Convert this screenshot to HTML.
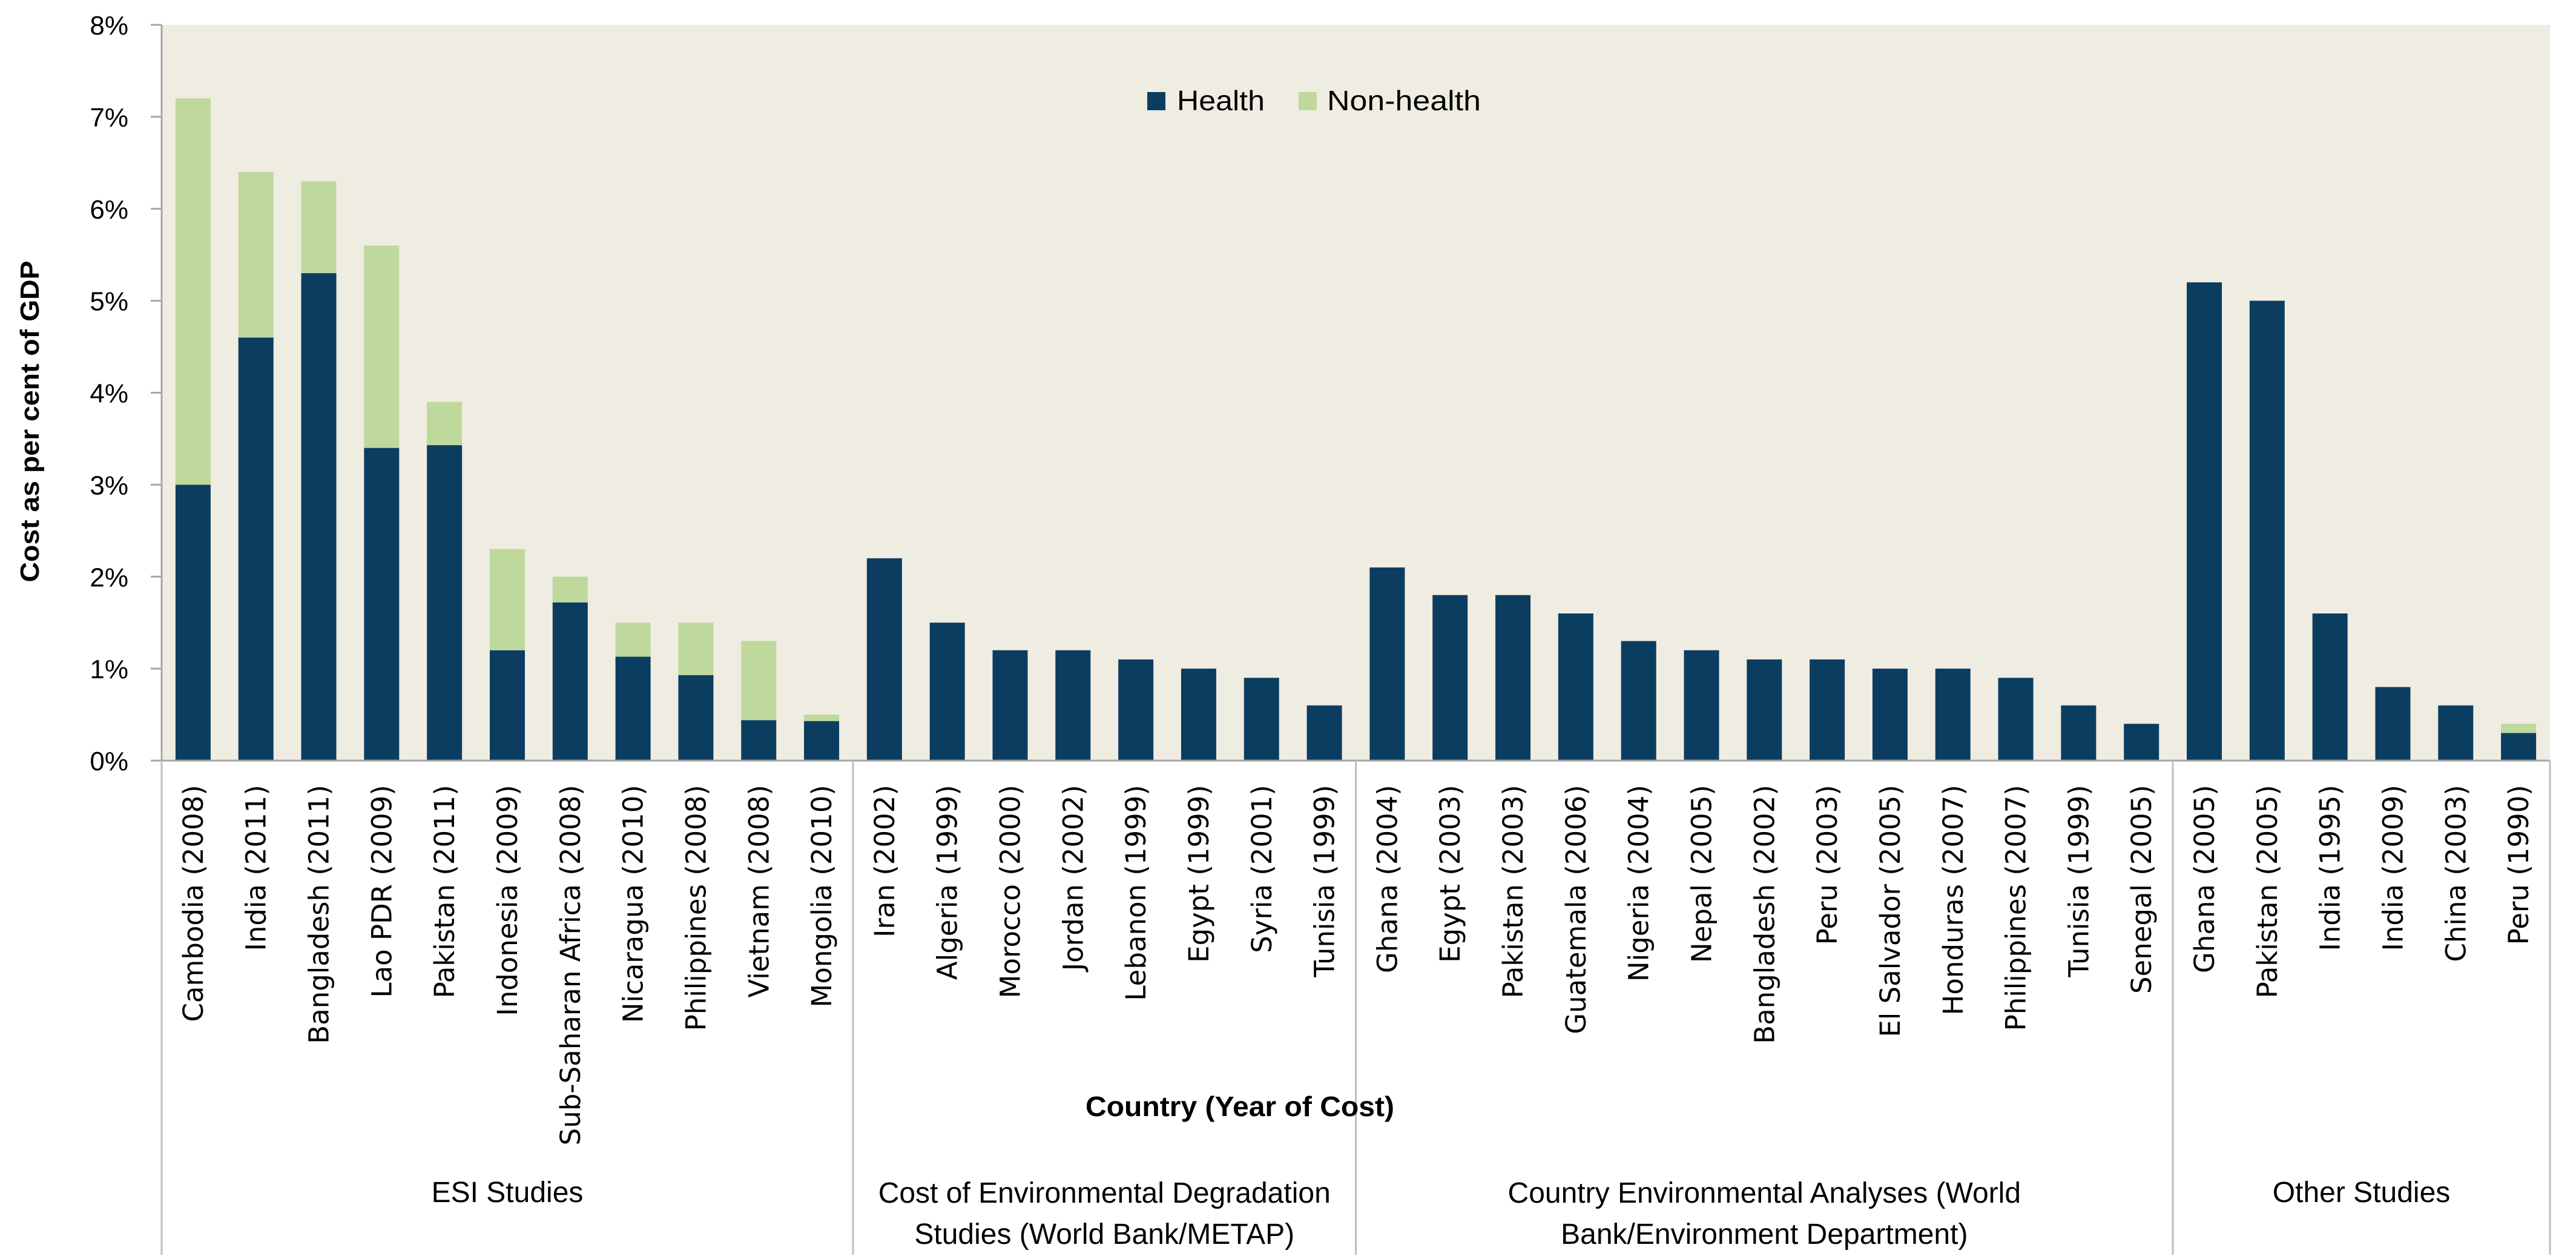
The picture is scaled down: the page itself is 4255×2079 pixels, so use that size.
<!DOCTYPE html>
<html><head><meta charset="utf-8"><style>
html,body{margin:0;padding:0;background:#fff;}
svg{display:block;}
text{fill:#000;}
</style></head><body>
<svg id="chart" xmlns="http://www.w3.org/2000/svg" width="4255" height="2079" viewBox="0 0 4255 2079">
<rect x="267" y="41" width="3945" height="1215" fill="#efece1"/>
<g id="bars"></g>
<g id="axes"></g>
<g id="labels"></g>
<text transform="translate(64,696) rotate(-90)" text-anchor="middle" font-family="'Liberation Sans',sans-serif" font-weight="bold" font-size="44" textLength="531" lengthAdjust="spacingAndGlyphs">Cost as per cent of GDP</text>
<text x="2048" y="1843" text-anchor="middle" font-family="'Liberation Sans',sans-serif" font-weight="bold" font-size="46" textLength="510" lengthAdjust="spacingAndGlyphs">Country (Year of Cost)</text>
<g>
<rect x="1895" y="152" width="30" height="30" fill="#0b3d60"/>
<text x="1944" y="182" font-family="'Liberation Sans',sans-serif" font-size="46" textLength="145" lengthAdjust="spacingAndGlyphs">Health</text>
<rect x="2145" y="152" width="30" height="30" fill="#bfd89c"/>
<text x="2192" y="182" font-family="'Liberation Sans',sans-serif" font-size="46" textLength="254" lengthAdjust="spacingAndGlyphs">Non-health</text>
</g>
</svg>
<script>
const categories=["Cambodia (2008)","India (2011)","Bangladesh (2011)","Lao PDR (2009)","Pakistan (2011)","Indonesia (2009)","Sub-Saharan Africa (2008)","Nicaragua (2010)","Philippines (2008)","Vietnam (2008)","Mongolia (2010)",
"Iran (2002)","Algeria (1999)","Morocco (2000)","Jordan (2002)","Lebanon (1999)","Egypt (1999)","Syria (2001)","Tunisia (1999)",
"Ghana (2004)","Egypt  (2003)","Pakistan (2003)","Guatemala (2006)","Nigeria (2004)","Nepal (2005)","Bangladesh  (2002)","Peru (2003)","El Salvador (2005)","Honduras (2007)","Philippines (2007)","Tunisia (1999)","Senegal (2005)",
"Ghana (2005)","Pakistan (2005)","India (1995)","India (2009)","China (2003)","Peru (1990)"];
const health=[3.0,4.6,5.3,3.4,3.43,1.2,1.72,1.13,0.93,0.44,0.43,
2.2,1.5,1.2,1.2,1.1,1.0,0.9,0.6,
2.1,1.8,1.8,1.6,1.3,1.2,1.1,1.1,1.0,1.0,0.9,0.6,0.4,
5.2,5.0,1.6,0.8,0.6,0.3];
const nonHealth=[4.2,1.8,1.0,2.2,0.47,1.1,0.28,0.37,0.57,0.86,0.07,
0,0,0,0,0,0,0,0,
0,0,0,0,0,0,0,0,0,0,0,0,0,
0,0,0,0,0,0.1];
const groupNames=[["ESI Studies"],["Cost of Environmental Degradation","Studies (World Bank/METAP)"],["Country Environmental Analyses (World","Bank/Environment Department)"],["Other Studies"]];
const groupSizes=[11,8,13,6];
const yTicks=[0,1,2,3,4,5,6,7,8];

const NS="http://www.w3.org/2000/svg";
const X0=267,X1=4212,Y0=1256,Y1=41,YMAX=8;
const step=(X1-X0)/categories.length;
const xPos=i=>X0+(i+0.5)*step;
const yPos=v=>Y0-(v/YMAX)*(Y0-Y1);
function mk(tag,attrs,parent){const e=document.createElementNS(NS,tag);for(const k in attrs)e.setAttribute(k,attrs[k]);parent.appendChild(e);return e;}
const gb=document.getElementById('bars'),ga=document.getElementById('axes'),gl=document.getElementById('labels');
const bw=58;
categories.forEach((c,i)=>{
  const h=health[i],n=nonHealth[i],x=xPos(i)-bw/2;
  const r=mk('rect',{x:x,y:yPos(h),width:bw,height:Y0-yPos(h),fill:'#0b3d60'},gb);
  
  
  if(n>0){
    const r2=mk('rect',{x:x,y:yPos(h+n),width:bw,height:yPos(h)-yPos(h+n),fill:'#bfd89c'},gb);
    
    
  }
  const t=mk('text',{transform:`translate(${xPos(i)+16},1296) rotate(-90)`,'text-anchor':'end','font-family':"'DejaVu Sans',sans-serif",'font-size':45},gl);
  t.textContent=c;
  
  
});
const yl=mk('line',{x1:X0,y1:Y1,x2:X0,y2:Y0,stroke:'#a6a6a6','stroke-width':3},ga);


yTicks.forEach(v=>{
  const tk=mk('line',{x1:249,y1:yPos(v),x2:X0,y2:yPos(v),stroke:'#a6a6a6','stroke-width':3},ga);
  
  
  const t=mk('text',{x:212,y:yPos(v)+16,'text-anchor':'end','font-family':"'Liberation Sans',sans-serif",'font-size':44},gl);
  t.textContent=v+'%';
  
  
});
const xl=mk('line',{x1:249,y1:Y0,x2:X1,y2:Y0,stroke:'#a6a6a6','stroke-width':3},ga);


let acc=0;
const bounds=[0];
groupSizes.forEach(s=>{acc+=s;bounds.push(acc);});
bounds.forEach(b=>{
  const xb=X0+b*step;
  const l=mk('line',{x1:xb,y1:Y0,x2:xb,y2:2072,stroke:'#bfbfbf','stroke-width':3},ga);
  
  
});
groupNames.forEach((lines,gi)=>{
  const cx=X0+(bounds[gi]+bounds[gi+1])/2*step;
  lines.forEach((ln,li)=>{
    const y=lines.length===1?1985:(1986+li*68);
    const t=mk('text',{x:cx,y:y,'text-anchor':'middle','font-family':"'Liberation Sans Narrow','Liberation Sans',sans-serif",'font-size':48},gl);
    t.textContent=ln;
    
    
  });
});
</script>
</body></html>
